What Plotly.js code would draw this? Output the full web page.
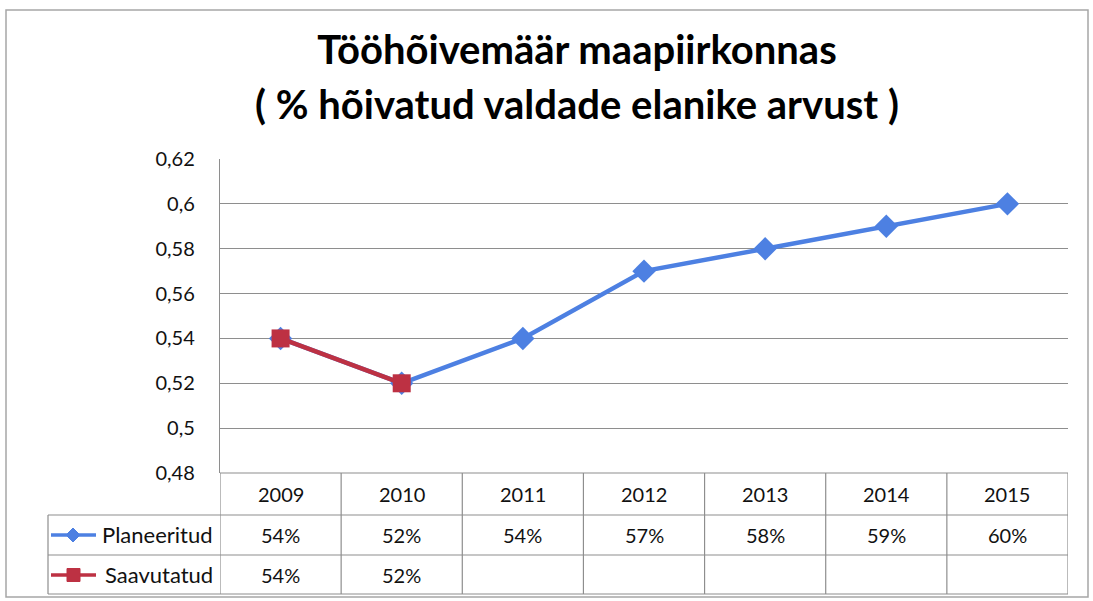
<!DOCTYPE html>
<html><head><meta charset="utf-8">
<script src="https://cdn.plot.ly/plotly-3.0.1.min.js"></script>
<style>html,body{margin:0;padding:0;background:#fff}#c{width:1093px;height:601px}</style>
</head><body><div id="c"></div>
<script>
const years = ['2009','2010','2011','2012','2013','2014','2015'];
const planned = [0.54,0.52,0.54,0.57,0.58,0.59,0.60];
const achieved = [0.54,0.52,null,null,null,null,null];
const seriesNames = ['Planeeritud','Saavutatud'];
const titleLine1 = 'Tööhõivemäär maapiirkonnas';
const titleLine2 = '( % hõivatud valdade elanike arvust )';

const W=1093,H=601,L=220,R=1068,T=159,B=473;
const pw=R-L, ph=B-T;
const px=x=>(x-L)/pw, py=y=>(B-y)/ph;
const BLUE='#4d80e2', RED='#bd3143', GRID='#8e8e8e', TXT='#111111';
const FONT='Lato, "Open Sans", sans-serif';

const rows=[473,515,555,594];
const shapes=[];
shapes.push({type:'rect',xref:'paper',yref:'paper',x0:px(6),x1:px(1088),y0:py(10),y1:py(597),line:{color:'#a6a6a6',width:1.5}});
shapes.push({type:'line',xref:'x',yref:'paper',x0:-0.5,x1:years.length-0.5,y0:py(rows[0]),y1:py(rows[0]),line:{color:GRID,width:1.2}});
for(let i=1;i<rows.length;i++){
  shapes.push({type:'line',xref:'paper',yref:'paper',x0:px(48),x1:1,y0:py(rows[i]),y1:py(rows[i]),line:{color:GRID,width:1.2}});
}
for(let i=0;i<=years.length;i++){
  shapes.push({type:'line',xref:'x',yref:'paper',x0:i-0.5,x1:i-0.5,y0:py(rows[0]),y1:py(rows[3]),line:{color:GRID,width:1.2}});
}
shapes.push({type:'line',xref:'paper',yref:'paper',x0:px(48),x1:px(48),y0:py(rows[1]),y1:py(rows[3]),line:{color:GRID,width:1.2}});
const keyY=[535,575];
shapes.push({type:'line',xref:'paper',yref:'paper',x0:px(51),x1:px(96),y0:py(keyY[0]),y1:py(keyY[0]),line:{color:BLUE,width:3.5}});
shapes.push({type:'line',xref:'paper',yref:'paper',x0:px(51),x1:px(96),y0:py(keyY[1]),y1:py(keyY[1]),line:{color:RED,width:3.5}});
shapes.push({type:'path',xref:'paper',yref:'paper',path:`M ${px(73)} ${py(keyY[0]-7)} L ${px(80)} ${py(keyY[0])} L ${px(73)} ${py(keyY[0]+7)} L ${px(66)} ${py(keyY[0])} Z`,fillcolor:BLUE,line:{color:BLUE,width:1}});
shapes.push({type:'rect',xref:'paper',yref:'paper',x0:px(67),x1:px(80),y0:py(keyY[1]-6.5),y1:py(keyY[1]+6.5),fillcolor:RED,line:{color:RED,width:1}});

const ann=[];
const tf={family:FONT,size:20,color:TXT};
years.forEach((yr,i)=>{
  ann.push({x:i,xref:'x',yref:'paper',y:py(494),text:yr,showarrow:false,font:tf,yanchor:'middle'});
  if(planned[i]!=null) ann.push({x:i,xref:'x',yref:'paper',y:py(535),text:Math.round(planned[i]*100)+'%',showarrow:false,font:tf,yanchor:'middle'});
  if(achieved[i]!=null) ann.push({x:i,xref:'x',yref:'paper',y:py(575),text:Math.round(achieved[i]*100)+'%',showarrow:false,font:tf,yanchor:'middle'});
});
seriesNames.forEach((n,k)=>{
  ann.push({xref:'paper',yref:'paper',x:px(215),y:py(keyY[k]-1),text:n,showarrow:false,xanchor:'right',yanchor:'middle',font:{family:FONT,size:22,color:TXT}});
});
ann.push({xref:'paper',yref:'paper',x:px(577),y:py(104),text:'<b>'+titleLine2+'</b>',showarrow:false,xanchor:'center',yanchor:'middle',font:{family:FONT,size:40,color:'#000'}});

const traces=[
  {x:years,y:planned,name:seriesNames[0],type:'scatter',mode:'lines+markers',line:{color:BLUE,width:4.5},marker:{symbol:'diamond',size:18,color:BLUE},cliponaxis:false},
  {x:years,y:achieved,name:seriesNames[1],type:'scatter',mode:'lines+markers',line:{color:RED,width:4.5},marker:{symbol:'square',size:18,color:RED},cliponaxis:false}
];
const layout={
  width:W,height:H,margin:{l:L,r:W-R,t:T,b:H-B},
  paper_bgcolor:'#fff',plot_bgcolor:'#fff',showlegend:false,separators:', ',
  font:{family:FONT,color:TXT},
  title:{text:'<b>'+titleLine1+'</b>',x:577/W,xanchor:'center',xref:'container',y:1-50/H,yanchor:'middle',yref:'container',font:{family:FONT,size:40,color:'#000'}},
  xaxis:{type:'category',range:[-0.5,6.5],showticklabels:false,showgrid:false,zeroline:false,showline:false,ticks:''},
  yaxis:{range:[0.48,0.62],dtick:0.02,tick0:0.48,showgrid:true,gridcolor:GRID,gridwidth:1.2,zeroline:false,showline:true,linecolor:GRID,linewidth:1.2,ticks:'',ticklabelstandoff:20,tickfont:{family:FONT,size:20,color:TXT}},
  shapes:shapes,annotations:ann
};
Plotly.newPlot('c',traces,layout,{staticPlot:true});
</script></body></html>
